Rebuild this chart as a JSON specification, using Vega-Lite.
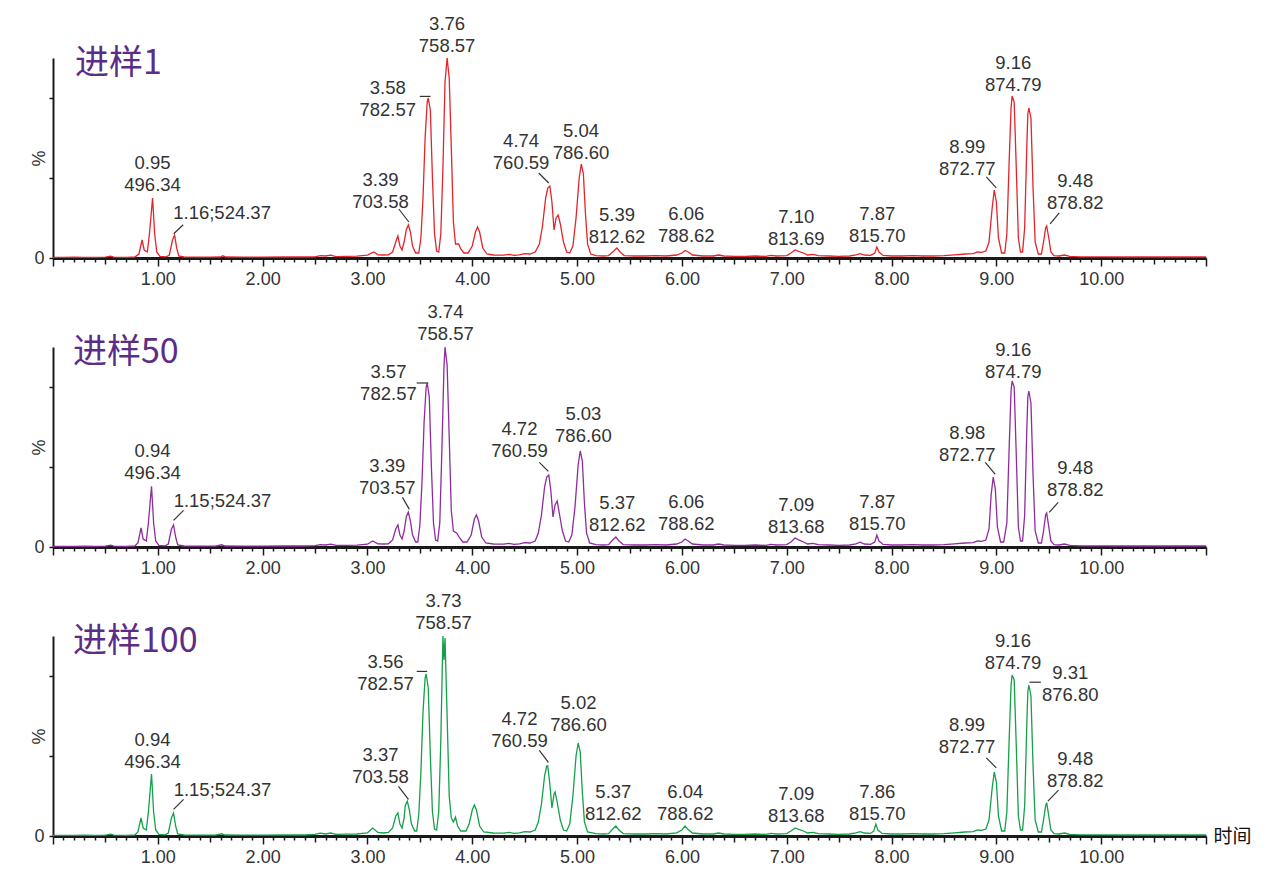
{
  "$schema": "https://vega.github.io/schema/vega-lite/v6.json",
  "background": "white",
  "padding": {"left": 30, "top": 15, "right": 5, "bottom": 5},
  "bounds": "flush",
  "spacing": 89,
  "config": {
    "view": {"stroke": null},
    "axis": {"grid": false, "domainColor": "#1a1a1a", "tickColor": "#1a1a1a", "labelColor": "#333333", "labelFont": "Liberation Sans", "labelFontSize": 18, "titleFont": "Liberation Sans", "titleColor": "#333333", "titleFontWeight": "normal"}
  },
  "datasets": {
    "s1": [
      {"t":0.00,"p":0.3},{"t":0.10,"p":0.3},{"t":0.20,"p":0.4},{"t":0.30,"p":0.3},{"t":0.40,"p":0.3},{"t":0.50,"p":0.4},{"t":0.55,"p":0.9},{"t":0.58,"p":0.4},{"t":0.70,"p":0.3},{"t":0.78,"p":0.5},{"t":0.82,"p":2},{"t":0.85,"p":9},{"t":0.87,"p":4},{"t":0.90,"p":3},{"t":0.92,"p":12},{"t":0.95,"p":30},{"t":0.97,"p":12},{"t":0.99,"p":3},{"t":1.02,"p":0.8},{"t":1.08,"p":0.6},{"t":1.11,"p":1.5},{"t":1.14,"p":9},{"t":1.16,"p":11.5},{"t":1.18,"p":5},{"t":1.20,"p":1},{"t":1.25,"p":0.5},{"t":1.35,"p":0.4},{"t":1.50,"p":0.4},{"t":1.60,"p":0.5},{"t":1.62,"p":1.1},{"t":1.65,"p":0.5},{"t":1.80,"p":0.4},{"t":2.00,"p":0.4},{"t":2.20,"p":0.5},{"t":2.40,"p":0.5},{"t":2.50,"p":0.6},{"t":2.55,"p":1.2},{"t":2.60,"p":1.0},{"t":2.65,"p":1.4},{"t":2.70,"p":0.7},{"t":2.80,"p":0.8},{"t":2.90,"p":0.9},{"t":2.95,"p":1.2},{"t":3.00,"p":1.4},{"t":3.06,"p":3},{"t":3.10,"p":1.6},{"t":3.15,"p":1.5},{"t":3.20,"p":1.6},{"t":3.24,"p":3},{"t":3.27,"p":8},{"t":3.29,"p":11},{"t":3.31,"p":6},{"t":3.33,"p":4},{"t":3.35,"p":8},{"t":3.37,"p":14},{"t":3.39,"p":16.5},{"t":3.41,"p":13},{"t":3.43,"p":6},{"t":3.46,"p":2.5},{"t":3.49,"p":2.5},{"t":3.51,"p":10},{"t":3.53,"p":30},{"t":3.55,"p":60},{"t":3.57,"p":78},{"t":3.58,"p":80},{"t":3.60,"p":74},{"t":3.62,"p":40},{"t":3.64,"p":12},{"t":3.66,"p":3.5},{"t":3.68,"p":3},{"t":3.70,"p":12},{"t":3.72,"p":45},{"t":3.74,"p":88},{"t":3.76,"p":100},{"t":3.78,"p":90},{"t":3.80,"p":55},{"t":3.82,"p":18},{"t":3.84,"p":7},{"t":3.87,"p":7},{"t":3.89,"p":4.5},{"t":3.92,"p":2.5},{"t":3.96,"p":2.5},{"t":4.00,"p":6},{"t":4.03,"p":13},{"t":4.05,"p":15.5},{"t":4.07,"p":13},{"t":4.10,"p":5},{"t":4.14,"p":2},{"t":4.20,"p":1.5},{"t":4.30,"p":1.4},{"t":4.35,"p":1.8},{"t":4.40,"p":1.3},{"t":4.45,"p":1.6},{"t":4.50,"p":2.2},{"t":4.55,"p":2.0},{"t":4.60,"p":3},{"t":4.64,"p":7},{"t":4.67,"p":16},{"t":4.70,"p":30},{"t":4.72,"p":35},{"t":4.74,"p":36},{"t":4.76,"p":28},{"t":4.78,"p":14},{"t":4.80,"p":20},{"t":4.82,"p":21.5},{"t":4.84,"p":17},{"t":4.87,"p":8},{"t":4.90,"p":3},{"t":4.93,"p":2.5},{"t":4.96,"p":6},{"t":4.99,"p":20},{"t":5.02,"p":40},{"t":5.04,"p":47},{"t":5.06,"p":42},{"t":5.08,"p":22},{"t":5.10,"p":7},{"t":5.13,"p":2},{"t":5.18,"p":1.2},{"t":5.25,"p":1.0},{"t":5.30,"p":1.2},{"t":5.35,"p":3.5},{"t":5.38,"p":5},{"t":5.41,"p":3},{"t":5.45,"p":1.2},{"t":5.55,"p":1.0},{"t":5.65,"p":1.0},{"t":5.75,"p":1.2},{"t":5.85,"p":1.0},{"t":5.95,"p":1.5},{"t":6.00,"p":2.5},{"t":6.03,"p":3.8},{"t":6.06,"p":3},{"t":6.10,"p":1.5},{"t":6.20,"p":1.0},{"t":6.30,"p":1.0},{"t":6.35,"p":1.5},{"t":6.40,"p":1.0},{"t":6.50,"p":0.8},{"t":6.60,"p":0.8},{"t":6.70,"p":1.0},{"t":6.80,"p":0.8},{"t":6.85,"p":1.3},{"t":6.90,"p":1.0},{"t":7.00,"p":1.2},{"t":7.04,"p":2.5},{"t":7.08,"p":4},{"t":7.12,"p":3.2},{"t":7.16,"p":2.5},{"t":7.20,"p":1.5},{"t":7.25,"p":1.8},{"t":7.30,"p":1.2},{"t":7.40,"p":1.0},{"t":7.50,"p":0.8},{"t":7.60,"p":1.0},{"t":7.66,"p":1.6},{"t":7.70,"p":2.2},{"t":7.74,"p":1.5},{"t":7.80,"p":1.3},{"t":7.84,"p":2.5},{"t":7.86,"p":5.5},{"t":7.88,"p":3},{"t":7.92,"p":1.3},{"t":8.00,"p":1.0},{"t":8.10,"p":1.0},{"t":8.20,"p":1.2},{"t":8.30,"p":1.0},{"t":8.40,"p":1.0},{"t":8.50,"p":1.2},{"t":8.60,"p":1.6},{"t":8.70,"p":2.0},{"t":8.78,"p":2.2},{"t":8.82,"p":3},{"t":8.86,"p":2.8},{"t":8.90,"p":3.5},{"t":8.93,"p":8},{"t":8.96,"p":25},{"t":8.98,"p":34},{"t":9.00,"p":28},{"t":9.02,"p":10},{"t":9.05,"p":2.5},{"t":9.08,"p":2.5},{"t":9.10,"p":12},{"t":9.12,"p":45},{"t":9.14,"p":75},{"t":9.15,"p":81},{"t":9.17,"p":78},{"t":9.19,"p":45},{"t":9.21,"p":10},{"t":9.23,"p":3},{"t":9.25,"p":3},{"t":9.27,"p":15},{"t":9.29,"p":55},{"t":9.30,"p":72},{"t":9.31,"p":75},{"t":9.33,"p":70},{"t":9.35,"p":35},{"t":9.37,"p":8},{"t":9.40,"p":2},{"t":9.43,"p":2},{"t":9.45,"p":8},{"t":9.47,"p":15},{"t":9.48,"p":16},{"t":9.50,"p":10},{"t":9.52,"p":3},{"t":9.55,"p":1.2},{"t":9.60,"p":1.0},{"t":9.65,"p":1.5},{"t":9.70,"p":0.8},{"t":9.80,"p":0.6},{"t":10.0,"p":0.6},{"t":10.2,"p":0.5},{"t":10.5,"p":0.5},{"t":10.8,"p":0.5},{"t":11.0,"p":0.5}
    ],
    "s2": [
      {"t":0.00,"p":0.3},{"t":0.10,"p":0.3},{"t":0.20,"p":0.3},{"t":0.30,"p":0.4},{"t":0.40,"p":0.3},{"t":0.50,"p":0.4},{"t":0.55,"p":0.9},{"t":0.58,"p":0.4},{"t":0.70,"p":0.3},{"t":0.78,"p":0.5},{"t":0.81,"p":2},{"t":0.84,"p":9.6},{"t":0.86,"p":4},{"t":0.89,"p":3},{"t":0.91,"p":12},{"t":0.94,"p":30.4},{"t":0.96,"p":12},{"t":0.98,"p":3},{"t":1.01,"p":0.8},{"t":1.07,"p":0.6},{"t":1.10,"p":1.5},{"t":1.13,"p":9},{"t":1.15,"p":11},{"t":1.17,"p":5},{"t":1.19,"p":1},{"t":1.25,"p":0.5},{"t":1.40,"p":0.4},{"t":1.55,"p":0.4},{"t":1.61,"p":1.1},{"t":1.64,"p":0.5},{"t":1.80,"p":0.4},{"t":2.00,"p":0.4},{"t":2.20,"p":0.5},{"t":2.40,"p":0.5},{"t":2.50,"p":0.7},{"t":2.55,"p":1.2},{"t":2.60,"p":1.0},{"t":2.65,"p":1.4},{"t":2.70,"p":0.8},{"t":2.80,"p":0.8},{"t":2.90,"p":0.9},{"t":2.95,"p":1.2},{"t":3.00,"p":1.4},{"t":3.05,"p":3},{"t":3.10,"p":1.6},{"t":3.15,"p":1.5},{"t":3.20,"p":1.6},{"t":3.24,"p":3.5},{"t":3.27,"p":9},{"t":3.29,"p":11},{"t":3.31,"p":6},{"t":3.33,"p":4},{"t":3.35,"p":8},{"t":3.37,"p":15},{"t":3.39,"p":17.5},{"t":3.41,"p":13},{"t":3.43,"p":6},{"t":3.46,"p":2.5},{"t":3.48,"p":2.5},{"t":3.50,"p":11},{"t":3.52,"p":32},{"t":3.54,"p":62},{"t":3.56,"p":80},{"t":3.57,"p":82},{"t":3.59,"p":75},{"t":3.61,"p":40},{"t":3.63,"p":12},{"t":3.65,"p":3.5},{"t":3.67,"p":3},{"t":3.69,"p":12},{"t":3.71,"p":48},{"t":3.73,"p":90},{"t":3.74,"p":100},{"t":3.76,"p":91},{"t":3.78,"p":55},{"t":3.80,"p":18},{"t":3.82,"p":8},{"t":3.85,"p":7},{"t":3.88,"p":4.5},{"t":3.91,"p":2.5},{"t":3.95,"p":2.5},{"t":3.99,"p":6},{"t":4.02,"p":14},{"t":4.04,"p":16},{"t":4.06,"p":13},{"t":4.09,"p":5},{"t":4.13,"p":2},{"t":4.20,"p":1.5},{"t":4.30,"p":1.4},{"t":4.35,"p":1.8},{"t":4.40,"p":1.3},{"t":4.45,"p":1.6},{"t":4.50,"p":2.2},{"t":4.55,"p":2.0},{"t":4.60,"p":3},{"t":4.63,"p":7},{"t":4.66,"p":16},{"t":4.69,"p":30},{"t":4.71,"p":35},{"t":4.73,"p":36},{"t":4.75,"p":28},{"t":4.77,"p":15},{"t":4.79,"p":21},{"t":4.81,"p":23},{"t":4.83,"p":17},{"t":4.86,"p":8},{"t":4.89,"p":3},{"t":4.92,"p":2.5},{"t":4.95,"p":6},{"t":4.98,"p":20},{"t":5.01,"p":41},{"t":5.03,"p":48},{"t":5.05,"p":43},{"t":5.07,"p":22},{"t":5.09,"p":7},{"t":5.12,"p":2},{"t":5.18,"p":1.2},{"t":5.25,"p":1.0},{"t":5.30,"p":1.2},{"t":5.34,"p":3.5},{"t":5.37,"p":5},{"t":5.40,"p":3},{"t":5.44,"p":1.2},{"t":5.55,"p":1.0},{"t":5.65,"p":1.0},{"t":5.75,"p":1.2},{"t":5.85,"p":1.0},{"t":5.95,"p":1.5},{"t":6.00,"p":2.5},{"t":6.03,"p":4},{"t":6.06,"p":3},{"t":6.10,"p":1.5},{"t":6.20,"p":1.0},{"t":6.30,"p":1.0},{"t":6.35,"p":1.5},{"t":6.40,"p":1.0},{"t":6.50,"p":0.8},{"t":6.60,"p":0.8},{"t":6.70,"p":1.0},{"t":6.80,"p":0.8},{"t":6.85,"p":1.3},{"t":6.90,"p":1.0},{"t":7.00,"p":1.2},{"t":7.04,"p":2.5},{"t":7.08,"p":4.5},{"t":7.12,"p":3.4},{"t":7.16,"p":2.5},{"t":7.20,"p":1.5},{"t":7.25,"p":1.8},{"t":7.30,"p":1.2},{"t":7.40,"p":1.0},{"t":7.50,"p":0.8},{"t":7.60,"p":1.0},{"t":7.66,"p":1.6},{"t":7.70,"p":2.4},{"t":7.74,"p":1.5},{"t":7.80,"p":1.3},{"t":7.84,"p":2.5},{"t":7.86,"p":6},{"t":7.88,"p":3},{"t":7.92,"p":1.3},{"t":8.00,"p":1.0},{"t":8.10,"p":1.0},{"t":8.20,"p":1.2},{"t":8.30,"p":1.0},{"t":8.40,"p":1.0},{"t":8.50,"p":1.2},{"t":8.60,"p":1.6},{"t":8.70,"p":2.0},{"t":8.78,"p":2.2},{"t":8.82,"p":3},{"t":8.86,"p":2.8},{"t":8.90,"p":3.5},{"t":8.93,"p":9},{"t":8.95,"p":26},{"t":8.97,"p":35},{"t":8.99,"p":29},{"t":9.01,"p":10},{"t":9.04,"p":2.5},{"t":9.07,"p":2.5},{"t":9.10,"p":12},{"t":9.12,"p":46},{"t":9.14,"p":78},{"t":9.15,"p":83},{"t":9.17,"p":80},{"t":9.19,"p":46},{"t":9.21,"p":10},{"t":9.23,"p":3},{"t":9.25,"p":3},{"t":9.27,"p":16},{"t":9.29,"p":58},{"t":9.30,"p":75},{"t":9.31,"p":78},{"t":9.33,"p":72},{"t":9.35,"p":36},{"t":9.37,"p":8},{"t":9.40,"p":2},{"t":9.43,"p":2},{"t":9.45,"p":8},{"t":9.47,"p":16},{"t":9.48,"p":17},{"t":9.50,"p":10},{"t":9.52,"p":3},{"t":9.55,"p":1.2},{"t":9.60,"p":1.0},{"t":9.65,"p":1.5},{"t":9.70,"p":0.8},{"t":9.80,"p":0.6},{"t":10.0,"p":0.6},{"t":10.2,"p":0.5},{"t":10.5,"p":0.5},{"t":10.8,"p":0.5},{"t":11.0,"p":0.5}
    ],
    "s3": [
      {"t":0.00,"p":0.3},{"t":0.10,"p":0.3},{"t":0.20,"p":0.3},{"t":0.30,"p":0.4},{"t":0.40,"p":0.3},{"t":0.50,"p":0.4},{"t":0.55,"p":0.9},{"t":0.58,"p":0.4},{"t":0.70,"p":0.3},{"t":0.78,"p":0.5},{"t":0.81,"p":2},{"t":0.84,"p":9},{"t":0.86,"p":4},{"t":0.89,"p":3},{"t":0.91,"p":12},{"t":0.94,"p":31},{"t":0.96,"p":12},{"t":0.98,"p":3},{"t":1.01,"p":0.8},{"t":1.07,"p":0.6},{"t":1.10,"p":1.5},{"t":1.13,"p":9},{"t":1.15,"p":11.5},{"t":1.17,"p":5},{"t":1.19,"p":1},{"t":1.25,"p":0.5},{"t":1.40,"p":0.4},{"t":1.55,"p":0.4},{"t":1.61,"p":1.1},{"t":1.64,"p":0.5},{"t":1.80,"p":0.4},{"t":2.00,"p":0.4},{"t":2.20,"p":0.5},{"t":2.40,"p":0.5},{"t":2.50,"p":0.8},{"t":2.55,"p":1.4},{"t":2.60,"p":1.0},{"t":2.65,"p":1.5},{"t":2.70,"p":0.8},{"t":2.80,"p":0.9},{"t":2.90,"p":1.0},{"t":2.95,"p":1.3},{"t":3.00,"p":1.6},{"t":3.05,"p":4},{"t":3.10,"p":1.8},{"t":3.15,"p":1.5},{"t":3.20,"p":1.8},{"t":3.24,"p":4},{"t":3.27,"p":10},{"t":3.29,"p":11.5},{"t":3.31,"p":6},{"t":3.33,"p":4},{"t":3.35,"p":9},{"t":3.36,"p":15},{"t":3.38,"p":17.5},{"t":3.40,"p":13},{"t":3.42,"p":6},{"t":3.45,"p":2.5},{"t":3.47,"p":2.5},{"t":3.49,"p":11},{"t":3.51,"p":32},{"t":3.53,"p":62},{"t":3.55,"p":79},{"t":3.56,"p":81},{"t":3.58,"p":74},{"t":3.60,"p":40},{"t":3.62,"p":12},{"t":3.64,"p":3.5},{"t":3.66,"p":3},{"t":3.68,"p":12},{"t":3.70,"p":48},{"t":3.72,"p":100},{"t":3.73,"p":88},{"t":3.74,"p":99},{"t":3.76,"p":60},{"t":3.78,"p":20},{"t":3.80,"p":9},{"t":3.82,"p":7},{"t":3.84,"p":9.5},{"t":3.86,"p":5},{"t":3.89,"p":2.5},{"t":3.94,"p":2.5},{"t":3.97,"p":6},{"t":4.00,"p":13},{"t":4.02,"p":15.5},{"t":4.04,"p":13},{"t":4.07,"p":5},{"t":4.11,"p":2},{"t":4.20,"p":1.5},{"t":4.30,"p":1.4},{"t":4.35,"p":1.8},{"t":4.40,"p":1.3},{"t":4.45,"p":1.6},{"t":4.50,"p":2.2},{"t":4.55,"p":2.0},{"t":4.60,"p":3},{"t":4.63,"p":7},{"t":4.66,"p":16},{"t":4.69,"p":30},{"t":4.71,"p":35},{"t":4.72,"p":35},{"t":4.74,"p":26},{"t":4.76,"p":14},{"t":4.78,"p":21},{"t":4.79,"p":22},{"t":4.81,"p":17},{"t":4.84,"p":8},{"t":4.87,"p":3},{"t":4.90,"p":2.5},{"t":4.93,"p":6},{"t":4.96,"p":20},{"t":4.99,"p":40},{"t":5.01,"p":46.5},{"t":5.03,"p":42},{"t":5.05,"p":22},{"t":5.07,"p":7},{"t":5.10,"p":2},{"t":5.18,"p":1.2},{"t":5.25,"p":1.0},{"t":5.30,"p":1.2},{"t":5.34,"p":3.5},{"t":5.37,"p":5},{"t":5.40,"p":3},{"t":5.44,"p":1.2},{"t":5.55,"p":1.0},{"t":5.65,"p":1.0},{"t":5.75,"p":1.2},{"t":5.85,"p":1.0},{"t":5.95,"p":1.6},{"t":6.00,"p":3},{"t":6.03,"p":5},{"t":6.06,"p":3.2},{"t":6.10,"p":1.5},{"t":6.20,"p":1.0},{"t":6.30,"p":1.0},{"t":6.35,"p":1.5},{"t":6.40,"p":1.0},{"t":6.50,"p":0.8},{"t":6.60,"p":0.8},{"t":6.70,"p":1.0},{"t":6.80,"p":0.8},{"t":6.85,"p":1.3},{"t":6.90,"p":1.0},{"t":7.00,"p":1.2},{"t":7.04,"p":2.5},{"t":7.08,"p":4},{"t":7.12,"p":3.2},{"t":7.16,"p":2.5},{"t":7.20,"p":1.5},{"t":7.25,"p":1.8},{"t":7.30,"p":1.2},{"t":7.40,"p":1.0},{"t":7.50,"p":0.8},{"t":7.60,"p":1.0},{"t":7.66,"p":1.6},{"t":7.70,"p":2.2},{"t":7.74,"p":1.5},{"t":7.80,"p":1.3},{"t":7.83,"p":2.5},{"t":7.85,"p":6},{"t":7.87,"p":3},{"t":7.91,"p":1.3},{"t":8.00,"p":1.0},{"t":8.10,"p":1.0},{"t":8.20,"p":1.2},{"t":8.30,"p":1.0},{"t":8.40,"p":1.0},{"t":8.50,"p":1.2},{"t":8.60,"p":1.6},{"t":8.70,"p":2.0},{"t":8.78,"p":2.2},{"t":8.82,"p":3},{"t":8.86,"p":2.8},{"t":8.90,"p":3.5},{"t":8.93,"p":8},{"t":8.96,"p":24},{"t":8.98,"p":32},{"t":9.00,"p":27},{"t":9.02,"p":10},{"t":9.05,"p":2.5},{"t":9.08,"p":2.5},{"t":9.10,"p":12},{"t":9.12,"p":45},{"t":9.14,"p":75},{"t":9.15,"p":80.5},{"t":9.17,"p":78},{"t":9.19,"p":45},{"t":9.21,"p":10},{"t":9.23,"p":3},{"t":9.25,"p":3},{"t":9.27,"p":15},{"t":9.29,"p":55},{"t":9.30,"p":72},{"t":9.31,"p":75.5},{"t":9.33,"p":70},{"t":9.35,"p":35},{"t":9.37,"p":8},{"t":9.40,"p":2},{"t":9.43,"p":2},{"t":9.45,"p":8},{"t":9.47,"p":15},{"t":9.48,"p":16.7},{"t":9.50,"p":10},{"t":9.52,"p":3},{"t":9.55,"p":1.2},{"t":9.60,"p":1.0},{"t":9.65,"p":1.5},{"t":9.70,"p":0.8},{"t":9.80,"p":0.6},{"t":10.0,"p":0.6},{"t":10.2,"p":0.5},{"t":10.5,"p":0.5},{"t":10.8,"p":0.5},{"t":11.0,"p":0.5}
    ],
    "l1": [
      {"t":0.95,"p":47.7,"txt":"0.95\n496.34"},{"t":1.613,"p":22.5,"txt":"1.16;524.37"},{"t":3.124,"p":39.2,"txt":"3.39\n703.58"},{"t":3.194,"p":85.1,"txt":"3.58\n782.57"},{"t":3.76,"p":116.9,"txt":"3.76\n758.57"},{"t":4.466,"p":58.4,"txt":"4.74\n760.59"},{"t":5.038,"p":63.4,"txt":"5.04\n786.60"},{"t":5.381,"p":21.7,"txt":"5.39\n812.62"},{"t":6.042,"p":22.1,"txt":"6.06\n788.62"},{"t":7.091,"p":20.6,"txt":"7.10\n813.69"},{"t":7.864,"p":22.1,"txt":"7.87\n815.70"},{"t":8.722,"p":55.4,"txt":"8.99\n872.77"},{"t":9.161,"p":97.6,"txt":"9.16\n874.79"},{"t":9.752,"p":38.4,"txt":"9.48\n878.82"}
    ],
    "l2": [
      {"t":0.95,"p":48,"txt":"0.94\n496.34"},{"t":1.617,"p":22.8,"txt":"1.15;524.37"},{"t":3.19,"p":40.3,"txt":"3.39\n703.57"},{"t":3.2,"p":87.3,"txt":"3.57\n782.57"},{"t":3.744,"p":117.3,"txt":"3.74\n758.57"},{"t":4.45,"p":58.8,"txt":"4.72\n760.59"},{"t":5.06,"p":66.3,"txt":"5.03\n786.60"},{"t":5.384,"p":22,"txt":"5.37\n812.62"},{"t":6.042,"p":22.3,"txt":"6.06\n788.62"},{"t":7.091,"p":20.8,"txt":"7.09\n813.68"},{"t":7.864,"p":22.3,"txt":"7.87\n815.70"},{"t":8.722,"p":56.8,"txt":"8.98\n872.77"},{"t":9.161,"p":98.3,"txt":"9.16\n874.79"},{"t":9.752,"p":39.3,"txt":"9.48\n878.82"}
    ],
    "l3": [
      {"t":0.95,"p":47.8,"txt":"0.94\n496.34"},{"t":1.617,"p":22.8,"txt":"1.15;524.37"},{"t":3.124,"p":40.3,"txt":"3.37\n703.58"},{"t":3.172,"p":86.8,"txt":"3.56\n782.57"},{"t":3.725,"p":117.3,"txt":"3.73\n758.57"},{"t":4.45,"p":58.3,"txt":"4.72\n760.59"},{"t":5.013,"p":66.5,"txt":"5.02\n786.60"},{"t":5.346,"p":21.8,"txt":"5.37\n812.62"},{"t":6.033,"p":21.8,"txt":"6.04\n788.62"},{"t":7.091,"p":20.8,"txt":"7.09\n813.68"},{"t":7.864,"p":21.8,"txt":"7.86\n815.70"},{"t":8.72,"p":55.3,"txt":"8.99\n872.77"},{"t":9.158,"p":97.5,"txt":"9.16\n874.79"},{"t":9.705,"p":81.3,"txt":"9.31\n876.80"},{"t":9.752,"p":38.5,"txt":"9.48\n878.82"}
    ],
    "r1": [
      {"t1":1.152,"p1":12.1,"t2":1.242,"p2":16.6},{"t1":3.299,"p1":24.5,"t2":3.395,"p2":18},{"t1":3.499,"p1":80.8,"t2":3.601,"p2":80.8},{"t1":4.634,"p1":42.5,"t2":4.729,"p2":37.5},{"t1":8.904,"p1":40.6,"t2":8.999,"p2":35.1},{"t1":9.60,"p1":22.6,"t2":9.513,"p2":17.1}
    ],
    "r2": [
      {"t1":1.150,"p1":13.3,"t2":1.246,"p2":18.3},{"t1":3.334,"p1":24.8,"t2":3.40,"p2":18.8},{"t1":3.47,"p1":82,"t2":3.58,"p2":82},{"t1":4.64,"p1":42.3,"t2":4.726,"p2":37.8},{"t1":8.894,"p1":42.3,"t2":8.99,"p2":36.3},{"t1":9.59,"p1":22.3,"t2":9.504,"p2":17.3}
    ],
    "r3": [
      {"t1":1.150,"p1":13.3,"t2":1.246,"p2":18.3},{"t1":3.296,"p1":24.8,"t2":3.391,"p2":18.3},{"t1":3.47,"p1":82.3,"t2":3.57,"p2":82.3},{"t1":4.64,"p1":42.8,"t2":4.726,"p2":36.8},{"t1":8.904,"p1":39.1,"t2":8.999,"p2":34.1},{"t1":9.316,"p1":76.9,"t2":9.425,"p2":76.9},{"t1":9.593,"p1":22.9,"t2":9.492,"p2":17.4}
    ]
  },
  "vconcat": [
    {
      "width": 1153, "height": 200,
      "layer": [
        {
          "data": {"name": "s1"},
          "mark": {"type": "line", "color": "#e3242b", "strokeWidth": 1.3},
          "encoding": {
            "x": {"field": "t", "type": "quantitative", "scale": {"domain": [0, 11], "nice": false, "zero": false},
              "axis": {"title": null, "tickCount": 110, "labelOverlap": false, "labelFlush": false, "labelBound": false, "domainWidth": 3, "tickWidth": 1.5, "labelPadding": 4,
                "labelExpr": "round(datum.value*10) % 10 == 0 && datum.value > 0.5 && datum.value < 10.5 ? format(datum.value, '.2f') : ''",
                "tickSize": {"condition": [{"test": "round(datum.value*10) % 10 == 0", "value": 8}, {"test": "round(datum.value*10) % 5 == 0", "value": 6}], "value": 4}}},
            "y": {"field": "p", "type": "quantitative", "scale": {"domain": [0, 100], "nice": false},
              "axis": {"values": [0,10,20,30,40,50,60,70,80,90,100], "title": "%", "titleFontSize": 18, "titleX": -14, "titleY": 100, "titleAlign": "center", "titleBaseline": "middle", "labelOverlap": false, "domainWidth": 2, "tickWidth": 1.5, "labelPadding": 5,
                "labelExpr": "datum.value == 0 ? '0' : ''",
                "tickSize": {"condition": {"test": "datum.value == 50 || datum.value == 100", "value": 8}, "value": 4}}}
          }
        },
        {
          "data": {"name": "r1"},
          "mark": {"type": "rule", "color": "#333333", "strokeWidth": 1.2},
          "encoding": {"x": {"field": "t1", "type": "quantitative"}, "y": {"field": "p1", "type": "quantitative"}, "x2": {"field": "t2"}, "y2": {"field": "p2"}}
        },
        {
          "data": {"name": "l1"},
          "mark": {"type": "text", "lineBreak": "\n", "lineHeight": 22, "fontSize": 18.5, "font": "Liberation Sans", "color": "#333333", "align": "center", "baseline": "middle"},
          "encoding": {"x": {"field": "t", "type": "quantitative"}, "y": {"field": "p", "type": "quantitative"}, "text": {"field": "txt"}}
        },
        {
          "data": {"values": [{"t": 0.21, "p": 97, "txt": "进样1"}]},
          "mark": {"type": "text", "fontSize": 34, "font": "Noto Sans CJK SC", "color": "#5c2d86", "align": "left", "baseline": "middle"},
          "encoding": {"x": {"field": "t", "type": "quantitative"}, "y": {"field": "p", "type": "quantitative"}, "text": {"field": "txt"}}
        }
      ]
    },
    {
      "width": 1153, "height": 200,
      "layer": [
        {
          "data": {"name": "s2"},
          "mark": {"type": "line", "color": "#8e2c9e", "strokeWidth": 1.3},
          "encoding": {
            "x": {"field": "t", "type": "quantitative", "scale": {"domain": [0, 11], "nice": false, "zero": false},
              "axis": {"title": null, "tickCount": 110, "labelOverlap": false, "labelFlush": false, "labelBound": false, "domainWidth": 3, "tickWidth": 1.5, "labelPadding": 4,
                "labelExpr": "round(datum.value*10) % 10 == 0 && datum.value > 0.5 && datum.value < 10.5 ? format(datum.value, '.2f') : ''",
                "tickSize": {"condition": [{"test": "round(datum.value*10) % 10 == 0", "value": 8}, {"test": "round(datum.value*10) % 5 == 0", "value": 6}], "value": 4}}},
            "y": {"field": "p", "type": "quantitative", "scale": {"domain": [0, 100], "nice": false},
              "axis": {"values": [0,10,20,30,40,50,60,70,80,90,100], "title": "%", "titleFontSize": 18, "titleX": -14, "titleY": 100, "titleAlign": "center", "titleBaseline": "middle", "labelOverlap": false, "domainWidth": 2, "tickWidth": 1.5, "labelPadding": 5,
                "labelExpr": "datum.value == 0 ? '0' : ''",
                "tickSize": {"condition": {"test": "datum.value == 50 || datum.value == 100", "value": 8}, "value": 4}}}
          }
        },
        {
          "data": {"name": "r2"},
          "mark": {"type": "rule", "color": "#333333", "strokeWidth": 1.2},
          "encoding": {"x": {"field": "t1", "type": "quantitative"}, "y": {"field": "p1", "type": "quantitative"}, "x2": {"field": "t2"}, "y2": {"field": "p2"}}
        },
        {
          "data": {"name": "l2"},
          "mark": {"type": "text", "lineBreak": "\n", "lineHeight": 22, "fontSize": 18.5, "font": "Liberation Sans", "color": "#333333", "align": "center", "baseline": "middle"},
          "encoding": {"x": {"field": "t", "type": "quantitative"}, "y": {"field": "p", "type": "quantitative"}, "text": {"field": "txt"}}
        },
        {
          "data": {"values": [{"t": 0.19, "p": 97, "txt": "进样50"}]},
          "mark": {"type": "text", "fontSize": 34, "font": "Noto Sans CJK SC", "color": "#5c2d86", "align": "left", "baseline": "middle"},
          "encoding": {"x": {"field": "t", "type": "quantitative"}, "y": {"field": "p", "type": "quantitative"}, "text": {"field": "txt"}}
        }
      ]
    },
    {
      "width": 1153, "height": 200,
      "layer": [
        {
          "data": {"name": "s3"},
          "mark": {"type": "line", "color": "#15a04a", "strokeWidth": 1.3},
          "encoding": {
            "x": {"field": "t", "type": "quantitative", "scale": {"domain": [0, 11], "nice": false, "zero": false},
              "axis": {"title": "时间", "titleFont": "Noto Sans CJK SC", "titleFontSize": 19, "titleColor": "#111111", "titleX": 1160, "titleY": 0, "titleAlign": "left", "titleBaseline": "middle", "titleAngle": 0,
                "tickCount": 110, "labelOverlap": false, "labelFlush": false, "labelBound": false, "domainWidth": 3, "tickWidth": 1.5, "labelPadding": 4,
                "labelExpr": "round(datum.value*10) % 10 == 0 && datum.value > 0.5 && datum.value < 10.5 ? format(datum.value, '.2f') : ''",
                "tickSize": {"condition": [{"test": "round(datum.value*10) % 10 == 0", "value": 8}, {"test": "round(datum.value*10) % 5 == 0", "value": 6}], "value": 4}}},
            "y": {"field": "p", "type": "quantitative", "scale": {"domain": [0, 100], "nice": false},
              "axis": {"values": [0,10,20,30,40,50,60,70,80,90,100], "title": "%", "titleFontSize": 18, "titleX": -14, "titleY": 100, "titleAlign": "center", "titleBaseline": "middle", "labelOverlap": false, "domainWidth": 2, "tickWidth": 1.5, "labelPadding": 5,
                "labelExpr": "datum.value == 0 ? '0' : ''",
                "tickSize": {"condition": {"test": "datum.value == 50 || datum.value == 100", "value": 8}, "value": 4}}}
          }
        },
        {
          "data": {"name": "r3"},
          "mark": {"type": "rule", "color": "#333333", "strokeWidth": 1.2},
          "encoding": {"x": {"field": "t1", "type": "quantitative"}, "y": {"field": "p1", "type": "quantitative"}, "x2": {"field": "t2"}, "y2": {"field": "p2"}}
        },
        {
          "data": {"name": "l3"},
          "mark": {"type": "text", "lineBreak": "\n", "lineHeight": 22, "fontSize": 18.5, "font": "Liberation Sans", "color": "#333333", "align": "center", "baseline": "middle"},
          "encoding": {"x": {"field": "t", "type": "quantitative"}, "y": {"field": "p", "type": "quantitative"}, "text": {"field": "txt"}}
        },
        {
          "data": {"values": [{"t": 0.19, "p": 97, "txt": "进样100"}]},
          "mark": {"type": "text", "fontSize": 34, "font": "Noto Sans CJK SC", "color": "#5c2d86", "align": "left", "baseline": "middle"},
          "encoding": {"x": {"field": "t", "type": "quantitative"}, "y": {"field": "p", "type": "quantitative"}, "text": {"field": "txt"}}
        }
      ]
    }
  ]
}
